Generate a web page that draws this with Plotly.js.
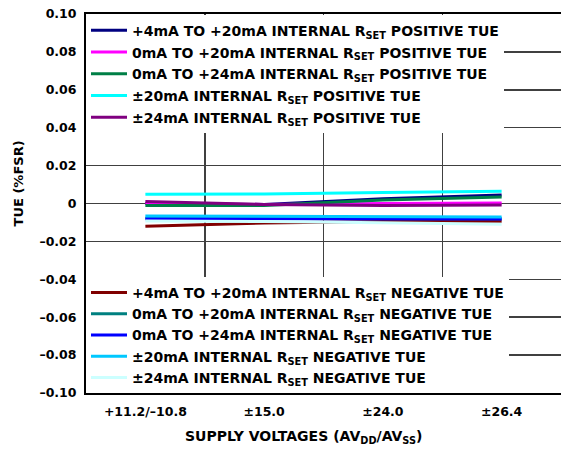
<!DOCTYPE html>
<html><head><meta charset="utf-8">
<script src="https://cdn.plot.ly/plotly-3.0.1.min.js"></script>
<style>body{margin:0;padding:0;background:#fff}#chart{width:561px;height:450px}</style>
</head><body><div id="chart"></div>
<script>
const categories = ["+11.2/\u201310.8", "\u00b115.0", "\u00b124.0", "\u00b126.4"];

const posNames = [
  "+4mA TO +20mA INTERNAL R<sub>SET</sub> POSITIVE TUE",
  "0mA TO +20mA INTERNAL R<sub>SET</sub> POSITIVE TUE",
  "0mA TO +24mA INTERNAL R<sub>SET</sub> POSITIVE TUE",
  "\u00b120mA INTERNAL R<sub>SET</sub> POSITIVE TUE",
  "\u00b124mA INTERNAL R<sub>SET</sub> POSITIVE TUE"
];
const negNames = [
  "+4mA TO +20mA INTERNAL R<sub>SET</sub> NEGATIVE TUE",
  "0mA TO +20mA INTERNAL R<sub>SET</sub> NEGATIVE TUE",
  "0mA TO +24mA INTERNAL R<sub>SET</sub> NEGATIVE TUE",
  "\u00b120mA INTERNAL R<sub>SET</sub> NEGATIVE TUE",
  "\u00b124mA INTERNAL R<sub>SET</sub> NEGATIVE TUE"
];

const pos4to20 = [0.0000, -0.0005, 0.0025, 0.0045];
const pos0to20 = [0.0000, -0.0005, 0.0000, 0.0002];
const pos0to24 = [-0.0010, -0.0010, 0.0018, 0.0034];
const posPm20 = [0.0049, 0.0050, 0.0058, 0.0065];
const posPm24 = [0.0010, -0.0005, -0.0010, -0.0008];

const neg4to20 = [-0.0120, -0.0103, -0.0095, -0.0094];
const neg0to20 = [-0.0078, -0.0078, -0.0080, -0.0080];
const neg0to24 = [-0.0080, -0.0080, -0.0081, -0.0082];
const negPm20 = [-0.0066, -0.0068, -0.0070, -0.0071];
const negPm24 = [-0.0092, -0.0095, -0.0102, -0.0110];

const yTickVals = [0.10, 0.08, 0.06, 0.04, 0.02, 0, -0.02, -0.04, -0.06, -0.08, -0.10];
const yTickText = ["0.10", "0.08", "0.06", "0.04", "0.02", "0", "\u20130.02", "\u20130.04", "\u20130.06", "\u20130.08", "\u20130.10"];

const xTitle = "SUPPLY VOLTAGES (AV<sub>DD</sub>/AV<sub>SS</sub>)";
const yTitle = "TUE (%FSR)";

const posColors = ["#000080", "#ff00ff", "#007f46", "#00ffff", "#800080"];
const negColors = ["#800000", "#008080", "#0000ff", "#00c8ff", "#ccffff"];

const posData = [pos4to20, pos0to20, pos0to24, posPm20, posPm24];
const negData = [neg4to20, neg0to20, neg0to24, negPm20, negPm24];

const traces = [];
posData.forEach((d, i) => traces.push({
  x: categories, y: d, type: "scatter", mode: "lines", name: "<b>" + posNames[i] + "</b>",
  line: {color: posColors[i], width: 3}, legend: "legend", legendgroup: "p" + i
}));
negData.forEach((d, i) => traces.push({
  x: categories, y: d, type: "scatter", mode: "lines", name: "<b>" + negNames[i] + "</b>",
  line: {color: negColors[i], width: 3}, legend: "legend2", legendgroup: "n" + i
}));

const fontFam = "DejaVu Sans, sans-serif";
const legendCommon = {
  bgcolor: "#ffffff", borderwidth: 0, xref: "paper", yref: "paper",
  font: {family: fontFam, size: 14, color: "#000", weight: "bold"}, itemwidth: 36,
  traceorder: "grouped"
};

const layout = {
  width: 561, height: 450,
  margin: {l: 86, r: 0, t: 14, b: 57},
  paper_bgcolor: "#fff", plot_bgcolor: "#fff",
  font: {family: fontFam, color: "#000"},
  showlegend: true,
  xaxis: {
    type: "category", range: [-0.5, 3.5], tickson: "boundaries",
    showgrid: true, gridcolor: "#404040", gridwidth: 1.5,
    showline: true, linecolor: "#000", linewidth: 2, mirror: true,
    ticks: "", ticklen: 0, ticklabelstandoff: 6,
    tickfont: {family: fontFam, size: 12.5, color: "#000", weight: "bold"},
    zeroline: false, fixedrange: true
  },
  yaxis: {
    range: [-0.1, 0.1], tickvals: yTickVals, ticktext: yTickText,
    showgrid: true, gridcolor: "#404040", gridwidth: 1.5,
    showline: true, linecolor: "#000", linewidth: 2, mirror: false,
    ticks: "", zeroline: false, ticklabelstandoff: 5,
    tickfont: {family: fontFam, size: 12.5, color: "#000", weight: "bold"},
    fixedrange: true
  },
  annotations: [
    {text: "<b>" + xTitle + "</b>", xref: "paper", yref: "paper", x: 0.457, y: 0, yshift: -44,
     xanchor: "center", yanchor: "middle", showarrow: false,
     font: {family: fontFam, size: 14, color: "#000", weight: "bold"}},
    {text: "<b>" + yTitle + "</b>", xref: "paper", yref: "paper", x: 0, xshift: -68, y: 0.553,
     xanchor: "center", yanchor: "middle", textangle: -90, showarrow: false,
     font: {family: fontFam, size: 13, color: "#000", weight: "bold"}}
  ],
  legend: Object.assign({}, legendCommon, {x: 0.0, y: 0.998, xanchor: "left", yanchor: "top", tracegroupgap: 0.5}),
  legend2: Object.assign({}, legendCommon, {x: 0.0, y: 0.0, xanchor: "left", yanchor: "bottom", tracegroupgap: 0})
};

Plotly.newPlot("chart", traces, layout, {staticPlot: true, displayModeBar: false});
</script></body></html>
